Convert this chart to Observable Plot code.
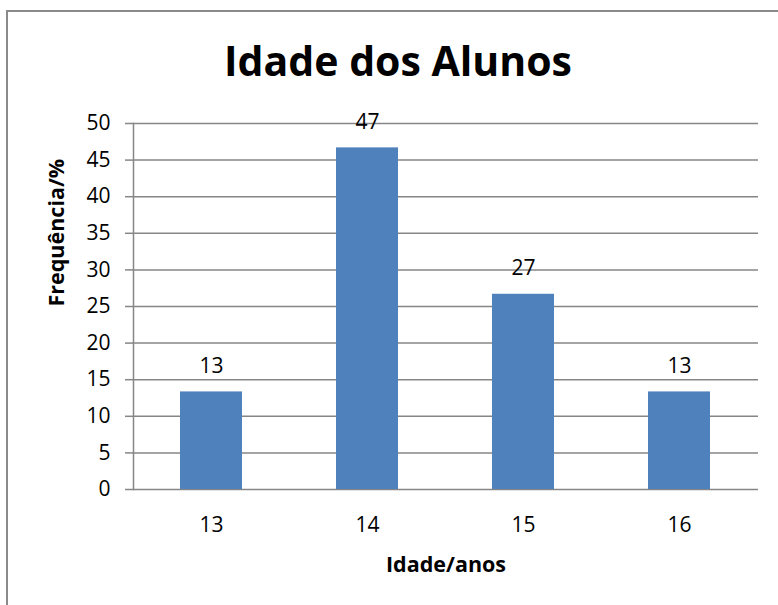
<!DOCTYPE html>
<html>
<head>
<meta charset="utf-8">
<script src="https://cdn.jsdelivr.net/npm/d3@7"></script>
<script src="https://cdn.jsdelivr.net/npm/@observablehq/plot@0.6"></script>
<style>
  html, body { margin: 0; padding: 0; background: #fff; overflow: hidden; width: 778px; height: 605px; }
  #wrap { position: relative; width: 778px; height: 605px; overflow: hidden; font-family: "Open Sans", sans-serif; }
  #lineTop { position: absolute; left: 6px; top: 10px; width: 772px; height: 2px; background: #8a8a8a; }
  #lineLeft { position: absolute; left: 6px; top: 10px; width: 2px; height: 595px; background: #8a8a8a; }
  #title { position: absolute; left: 20px; width: 756px; top: 40px; text-align: center; font-weight: bold; font-size: 41px; color: #000; line-height: 1; white-space: nowrap; }
  #chart { position: absolute; left: 0; top: 0; width: 778px; height: 605px; }
  #chart svg { display: block; }
</style>
</head>
<body>
<div id="wrap">
  <div id="lineTop"></div>
  <div id="lineLeft"></div>
  <div id="chart"></div>
  <div id="title">Idade dos Alunos</div>
</div>
<script>
const ages = ["13", "14", "15", "16"];
const freqs = [13.33, 46.67, 26.67, 13.33];
const valueLabels = ["13", "47", "27", "13"];
const yTicks = [0, 5, 10, 15, 20, 25, 30, 35, 40, 45, 50];

const data = ages.map((a, i) => ({age: a, freq: freqs[i], label: valueLabels[i]}));

const chart = Plot.plot({
  width: 778,
  height: 605,
  marginLeft: 133,
  marginRight: 20,
  marginTop: 123,
  marginBottom: 116,
  style: {fontFamily: "Open Sans, sans-serif", fontSize: "21px", color: "#000", background: "transparent"},
  x: {domain: ages, paddingInner: 0.6, paddingOuter: 0.3, label: null},
  y: {domain: [0, 50], ticks: yTicks, label: null},
  marks: [
    Plot.gridY(yTicks, {stroke: "#868686", strokeOpacity: 1, strokeWidth: 1.5}),
    Plot.barY(data, {x: "age", y: "freq", fill: "#4F81BD"}),
    Plot.axisY(yTicks, {tickSize: 8, tickPadding: 15, stroke: "#868686", strokeWidth: 1.5, fill: "#000", fontSize: 21, label: null}),
    Plot.frame({anchor: "left", stroke: "#868686", strokeWidth: 1.5}),
    Plot.axisX({tickSize: 0, tickPadding: 28, fill: "#000", fontSize: 21, label: null}),
    Plot.text(data, {x: "age", y: "freq", text: "label", dy: -26, fill: "#000", fontSize: 21}),
    Plot.text(["Idade/anos"], {frameAnchor: "bottom", dy: 82, fontWeight: "bold", fontSize: 21.5, fill: "#000"}),
    Plot.text(["Frequência/%"], {frameAnchor: "left", dx: -76, rotate: -90, fontWeight: "bold", fontSize: 21.5, fill: "#000"})
  ]
});
document.getElementById("chart").appendChild(chart);
</script>
</body>
</html>
